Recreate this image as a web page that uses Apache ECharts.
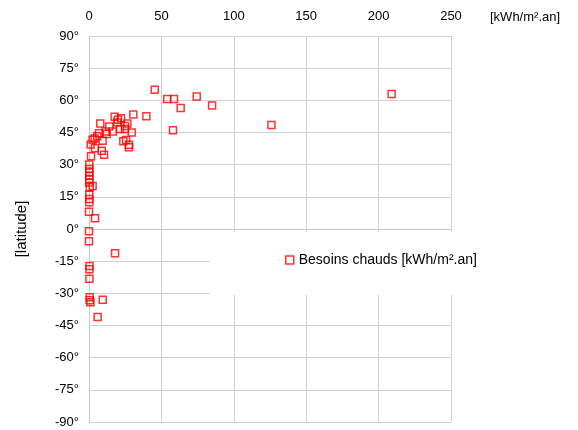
<!DOCTYPE html>
<html>
<head>
<meta charset="utf-8">
<script src="https://cdn.jsdelivr.net/npm/echarts@6/dist/echarts.min.js"></script>
<style>html,body{margin:0;padding:0;background:#fff}#c{width:578px;height:430px}</style>
</head>
<body>
<div id="c"></div>
<script>
var seriesName = 'Besoins chauds [kWh/m².an]';
var xAxisName = '[kWh/m².an]';
var yAxisName = '[latitude]';
var energy = [209, 126, 85, 74.4, 63.3, 58.7, 54, 58, 45.4, 39.6, 30.6, 17.7, 22.1, 20, 26.5, 19.5, 21.4, 24.9, 29.5, 23.7, 25.6, 27.6, 27.6, 7.8, 14, 11.5, 12.2, 6.9, 5.7, 3.9, 2.5, 9.4, 1.2, 4.1, 8.8, 10.4, 1.4, 0.2, 0.2, 0.2, 0.2, 0.2, 0.2, 2.5, 0.5, 0.2, 0.2, 0.2, 0, 4.2, 0, 0, 18, 0.3, 0.3, 0.3, 0.5, 0.5, 1, 9.5, 6, 24.9, 16.5];
var latitude = [63, 48.5, 57.6, 61.8, 56.4, 60.6, 60.6, 46.1, 64.9, 52.6, 53.4, 52.3, 51.7, 50.9, 49.2, 49.7, 46.6, 46.6, 45, 40.9, 41.5, 39.3, 38.1, 49.2, 47.8, 45.5, 44.3, 44.6, 43.2, 42.2, 41.6, 41.1, 39.4, 37.6, 36.5, 34.6, 33.9, 30.1, 28, 26.4, 24.8, 23.3, 21.7, 20, 19.5, 16, 14, 12.5, 8, 5, -1, -5.7, -11.3, -17.2, -18.8, -23.2, -31.8, -33.2, -34.2, -33, -41, 48, 45.5];
var xTicks = [0, 50, 100, 150, 200, 250];
var yTicks = [-90, -75, -60, -45, -30, -15, 0, 15, 30, 45, 60, 75, 90];

var points = energy.map(function (e, i) { return [e, latitude[i]]; });
var font = 'Liberation Sans, Arial, sans-serif';
var chart = echarts.init(document.getElementById('c'), null, {renderer: 'canvas'});
chart.setOption({
  animation: false,
  backgroundColor: '#fff',
  title: {
    text: xAxisName, left: 490, top: 11, padding: 0,
    textStyle: {color: '#000', fontFamily: font, fontSize: 13, fontWeight: 'normal'}
  },
  grid: {left: 89, top: 36, width: 362, height: 386, containLabel: false},
  xAxis: {
    type: 'value', position: 'top',
    min: xTicks[0], max: xTicks[xTicks.length - 1], interval: 50,
    axisLine: {show: true, lineStyle: {color: '#c8c8c8'}},
    axisTick: {show: false},
    axisLabel: {color: '#000', fontFamily: font, fontSize: 13, margin: 13},
    splitLine: {show: true, lineStyle: {color: '#d0d0d0', width: 1}}
  },
  yAxis: {
    type: 'value',
    min: yTicks[0], max: yTicks[yTicks.length - 1], interval: 15,
    name: yAxisName, nameLocation: 'middle', nameGap: 60, nameRotate: 90,
    nameTextStyle: {color: '#000', fontFamily: font, fontSize: 15},
    axisLine: {show: true, onZero: false, lineStyle: {color: '#c8c8c8'}},
    axisTick: {show: false},
    axisLabel: {color: '#000', fontFamily: font, fontSize: 13, margin: 10, formatter: function (v) { return v + '°'; }},
    splitLine: {show: true, lineStyle: {color: '#d0d0d0', width: 1}}
  },
  legend: {
    left: 210, top: 232,
    padding: [21, 10, 28, 75],
    backgroundColor: '#fff',
    itemWidth: 8, itemHeight: 8, itemGap: 6,
    icon: 'rect',
    itemStyle: {color: '#fff', borderColor: '#ff0000', borderWidth: 1.5},
    textStyle: {color: '#000', fontFamily: font, fontSize: 14},
    data: [seriesName]
  },
  series: [{
    name: seriesName,
    type: 'scatter',
    symbol: 'rect',
    symbolSize: 7,
    clip: false,
    itemStyle: {color: 'rgba(255,255,255,0)', borderColor: '#ff0000', borderWidth: 1.5},
    data: points
  }]
});
</script>
</body>
</html>
